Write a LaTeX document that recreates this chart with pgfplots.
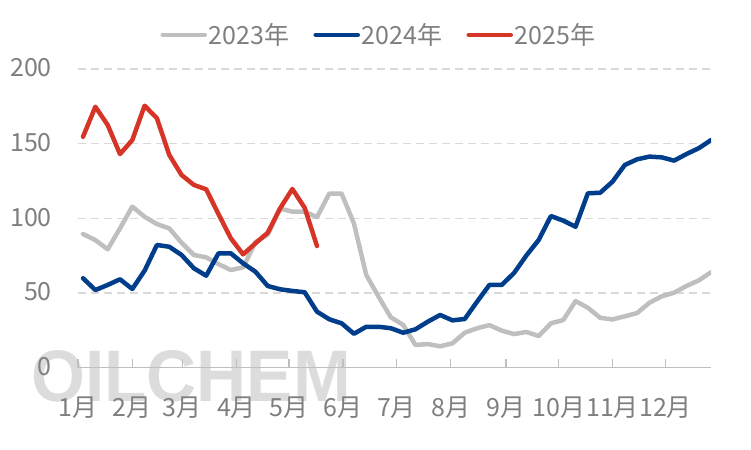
\documentclass[border=0pt]{standalone}
\usepackage{fontspec}
\setmainfont{Noto Sans CJK SC}
\newfontfamily\wmfont{Liberation Sans}
\usepackage{pgfplots}
\pgfplotsset{compat=1.18}
\definecolor{c23}{RGB}{191,191,191}
\definecolor{c24}{RGB}{0,61,138}
\definecolor{c25}{RGB}{214,52,38}
\definecolor{txt}{RGB}{127,127,127}
\definecolor{gridc}{RGB}{217,217,217}
\definecolor{axg}{RGB}{191,191,191}
\definecolor{wm}{RGB}{220,220,220}
\begin{document}
\begin{tikzpicture}
\path[use as bounding box] (0,0) rectangle (751bp,450bp);
\node[font=\wmfont\bfseries\fontsize{73bp}{73bp}\selectfont, text=wm, anchor=base west, xscale=0.95, inner sep=0pt] at (31bp,48bp) {OILCHEM};
\begin{axis}[
  at={(78bp,82.5bp)}, anchor=south west,
  width=633bp, height=298.5bp, scale only axis,
  xmin=0.59, xmax=52, ymin=0, ymax=200,
  axis x line=bottom, axis y line=left,
  x axis line style={-, draw=axg, line width=1.5bp},
  y axis line style={draw=none},
  xtick={0.59,5.01,9.07,13.46,17.73,22.12,26.46,30.85,35.34,39.64,44.0,48.31},
  xticklabels={1月,2月,3月,4月,5月,6月,7月,8月,9月,10月,11月,12月},
  ytick={0,50,100,150,200},
  tick align=inside,
  major tick length=8bp,
  xtick style={draw=axg, line width=1.3bp},
  ytick style={draw=none},
  ymajorgrids,
  grid style={draw=gridc, line width=1.3bp, dash pattern=on 8bp off 5bp},
  /pgf/number format/assume math mode=true,
  tick label style={font=\fontsize{25bp}{30bp}\selectfont, text=txt, inner sep=0pt},
  xticklabel style={anchor=center, yshift=-40bp},
  yticklabel style={anchor=east, xshift=-26bp, yshift=1bp},
  legend columns=3,
  legend style={at={(0.4755,1.114)}, anchor=center, draw=none, fill=none,
    font=\fontsize{25bp}{30bp}\selectfont, text=txt,
    nodes={inner sep=2bp},
    /tikz/every even column/.append style={column sep=22bp}},
  legend image code/.code={\draw[#1, line width=4.5bp, line cap=round] (0bp,0bp) -- (42bp,0bp);},
  every axis plot/.append style={line width=4.5bp, line join=round, line cap=round, mark=none},
]
\addplot[c23] coordinates {
(1,89.4)(2,85.4)(3,79.2)(4,93.2)(5,107.8)(6,101)(7,96.1)(8,93.2)(9,83.6)(10,75.4)
(11,73.8)(12,69.3)(13,65.3)(14,67.1)(15,84)(16,89)(17,106.5)(18,104.4)(19,104.4)(20,100.8)
(21,116.5)(22,116.5)(23,96.5)(24,62)(25,47.4)(26,33.6)(27,28.5)(28,15.1)(29,15.7)(30,14.2)
(31,16.2)(32,23.3)(33,26.3)(34,28.4)(35,24.7)(36,22.4)(37,23.8)(38,21.1)(39,29.6)(40,31.8)
(41,44.5)(42,40)(43,33.3)(44,32.2)(45,34.3)(46,36.5)(47,43.4)(48,47.7)(49,50.1)(50,54.6)
(51,58.3)(52,63.8)};
\addlegendentry{2023年}
\addplot[c24] coordinates {
(1,59.8)(2,51.9)(3,55.3)(4,59.1)(5,52.6)(6,64.9)(7,82.1)(8,80.9)(9,75.4)(10,66.5)
(11,61.5)(12,76.5)(13,76.5)(14,69.8)(15,64.2)(16,54.6)(17,52.4)(18,51.3)(19,50.4)(20,37.4)
(21,32.3)(22,29.6)(23,22.6)(24,27.3)(25,27.3)(26,26.3)(27,23.3)(28,25.6)(29,30.7)(30,35.2)
(31,31.6)(32,32.5)(33,44.1)(34,55.3)(35,55.3)(36,63.3)(37,75)(38,85.4)(39,101.5)(40,98.4)
(41,94.3)(42,116.7)(43,117.1)(44,124.5)(45,135.7)(46,139.5)(47,141.3)(48,140.8)(49,138.6)(50,143)
(51,146.9)(52,152.4)};
\addlegendentry{2024年}
\addplot[c25] coordinates {
(1,154.6)(2,174.7)(3,162.5)(4,143)(5,152.4)(6,175.4)(7,167)(8,142.4)(9,129)(10,122.3)
(11,119.4)(12,102.8)(13,86.6)(14,75.8)(15,83.2)(16,90.3)(17,106.6)(18,119.6)(19,107)(20,81.4)};
\addlegendentry{2025年}
\end{axis}
\end{tikzpicture}
\end{document}
